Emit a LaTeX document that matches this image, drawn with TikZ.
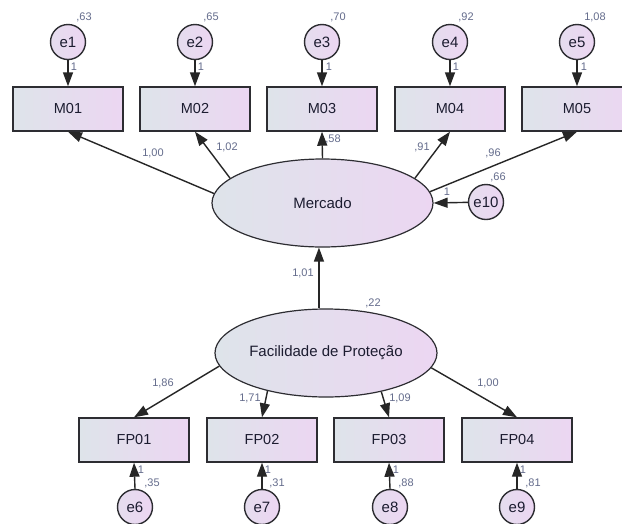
\documentclass[tikz,border=0pt]{standalone}
\usepackage{fontspec}
\setmainfont{Liberation Sans}
\usetikzlibrary{arrows.meta,shapes.geometric}

\definecolor{ink}{RGB}{28,28,48}
\definecolor{edgec}{RGB}{45,45,50}
\definecolor{numc}{RGB}{100,108,140}
\definecolor{fillL}{RGB}{222,228,234}
\definecolor{fillR}{RGB}{236,214,242}

\tikzset{
  obs/.style={draw=edgec, line width=1.4pt, left color=fillL, right color=fillR,
    minimum width=110pt, minimum height=44pt, inner sep=0pt,
    font=\fontsize{14.5}{16}\selectfont, text=ink},
  err/.style={circle, draw=edgec, line width=1.4pt, left color=fillL!50!fillR, right color=fillR,
    minimum size=35pt, inner sep=0pt, font=\fontsize{15}{16}\selectfont, text=ink},
  lat/.style={ellipse, draw=edgec, line width=1.2pt, left color=fillL, right color=fillR,
    inner sep=0pt, font=\fontsize{15}{16}\selectfont, text=ink},
  arr/.style={-{Triangle[length=14pt,width=10pt]}, line width=1.4pt, draw=black!85},
  num/.style={font=\fontsize{11}{12}\selectfont, text=numc, inner sep=0pt},
}

\begin{document}
\begin{tikzpicture}[x=1pt,y=-1pt]
  \clip (0,0) rectangle (622,523);
  \fill[white] (0,0) rectangle (622,523);

  % observed indicators of Mercado
  \node[obs] (M01) at (68,109)  {M01};
  \node[obs] (M02) at (195,109) {M02};
  \node[obs] (M03) at (322,109) {M03};
  \node[obs] (M04) at (450,109) {M04};
  \node[obs] (M05) at (577,109) {M05};

  % their error terms
  \node[err] (e1) at (68,42)  {e1};
  \node[err] (e2) at (195,42) {e2};
  \node[err] (e3) at (322,42) {e3};
  \node[err] (e4) at (450,42) {e4};
  \node[err] (e5) at (577,42) {e5};

  % latent variables
  \node[lat, minimum width=221pt, minimum height=88pt] (merc) at (322.5,203) {Mercado};
  \node[lat, minimum width=222pt, minimum height=88pt] (fac) at (326,353) {Facilidade de Proteção};
  \node[err] (e10) at (486,202) {e10};

  % observed indicators of Facilidade de Proteção
  \node[obs] (FP01) at (134,440) {FP01};
  \node[obs] (FP02) at (262,440) {FP02};
  \node[obs] (FP03) at (389,440) {FP03};
  \node[obs] (FP04) at (517,440) {FP04};

  \node[err] (e6) at (135,507) {e6};
  \node[err] (e7) at (262,507) {e7};
  \node[err] (e8) at (390,507) {e8};
  \node[err] (e9) at (517,507) {e9};

  % paths
  \foreach \i in {1,...,5} {\draw[arr] (e\i.south) -- (M0\i.north);}
  \draw[arr] (merc.175) -- (M01.south);
  \draw[arr] (merc.165) -- (M02.south);
  \draw[arr] (merc.north) -- (M03.south);
  \draw[arr] (merc.15.4) -- (M04.south);
  \draw[arr] (merc.6.2) -- (M05.south);
  \draw[arr] (e10) -- (merc.east);
  \draw[arr] (fac.99) -- (fac.99 |- merc.south);
  \draw[arr] (fac.187.8) -- (FP01.north);
  \draw[arr] (fac.213.9) -- (FP02.north);
  \draw[arr] (fac.325.6) -- (FP03.north);
  \draw[arr] (fac.352.7) -- (FP04.north);
  \draw[arr] (e6.north) -- (FP01.south);
  \draw[arr] (e7.north) -- (FP02.south);
  \draw[arr] (e8.north) -- (FP03.south);
  \draw[arr] (e9.north) -- (FP04.south);

  % variances of the top error terms
  \node[num] (v1) at (84,17)  {,63};
  \node[num] (v2) at (211,17) {,65};
  \node[num] (v3) at (338,17) {,70};
  \node[num] (v4) at (466,17) {,92};
  \node[num] (v5) at (595,17) {1,08};
  % fixed loadings of the top error terms
  \node[num] (f1) at (74,67)  {1};
  \node[num] (f2) at (201,67) {1};
  \node[num] (f3) at (329,67) {1};
  \node[num] (f4) at (456,67) {1};
  \node[num] (f5) at (584,67) {1};

  % loadings on Mercado
  \node[num] (w1) at (153,153) {1,00};
  \node[num] (w2) at (227,147) {1,02};
  \node[num] (w3) at (333,139) {,58};
  \node[num] (w4) at (422,147) {,91};
  \node[num] (w5) at (493,153) {,96};
  \node[num] (v10) at (498,177) {,66};
  \node[num] (f10) at (447,192) {1};

  % structural path and latent variance
  \node[num] (b1) at (303,273) {1,01};
  \node[num] (vf) at (373,303) {,22};

  % loadings on Facilidade de Proteção
  \node[num] (w6) at (163,383) {1,86};
  \node[num] (w7) at (250,398) {1,71};
  \node[num] (w8) at (400,398) {1,09};
  \node[num] (w9) at (488,383) {1,00};

  % bottom error terms
  \node[num] (f6) at (141,470) {1};
  \node[num] (f7) at (268,470) {1};
  \node[num] (f8) at (396,470) {1};
  \node[num] (f9) at (523,470) {1};
  \node[num] (v6) at (152,483) {,35};
  \node[num] (v7) at (277,483) {,31};
  \node[num] (v8) at (406,483) {,88};
  \node[num] (v9) at (533,483) {,81};
\end{tikzpicture}
\end{document}
